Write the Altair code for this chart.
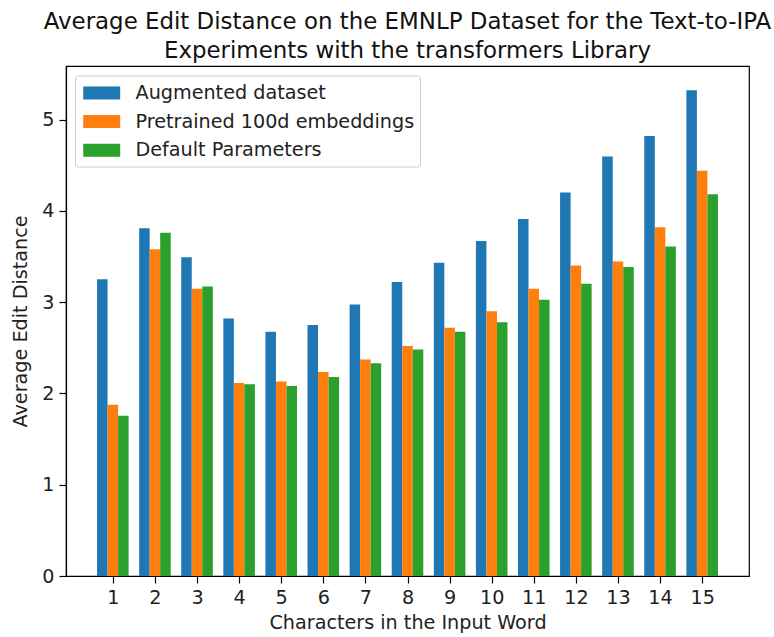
import altair as alt
import pandas as pd

# Word length (number of characters in the input word)
lengths = list(range(1, 16))

# Average edit distance per word length for each configuration
augmented = [3.25, 3.81, 3.49, 2.82, 2.675, 2.75, 2.975, 3.22, 3.43, 3.67, 3.91, 4.20, 4.595, 4.82, 5.32]
pretrained = [1.875, 3.58, 3.145, 2.115, 2.13, 2.235, 2.37, 2.52, 2.72, 2.90, 3.145, 3.40, 3.445, 3.82, 4.44]
default = [1.755, 3.76, 3.17, 2.10, 2.08, 2.18, 2.33, 2.48, 2.675, 2.78, 3.025, 3.20, 3.385, 3.61, 4.18]

series_names = ["Augmented dataset", "Pretrained 100d embeddings", "Default Parameters"]
series_values = [augmented, pretrained, default]
colors = ["#1f77b4", "#ff7f0e", "#2ca02c"]

bar_w = 0.25
rows = []
for k, (name, vals) in enumerate(zip(series_names, series_values)):
    shift = (k - 1) * bar_w
    for n, v in zip(lengths, vals):
        rows.append({
            "series": name,
            "order": k,
            "x0": n + shift - bar_w / 2,
            "x1": n + shift + bar_w / 2,
            "value": v,
        })
df = pd.DataFrame(rows)

x_lo = 1 - 1.5 * bar_w
x_hi = 15 + 1.5 * bar_w
x_pad = 0.05 * (x_hi - x_lo)
y_max = max(augmented + pretrained + default) * 1.05

FONT = "DejaVu Sans"
FS = 19.2

bars = alt.Chart(df).mark_bar().encode(
    x=alt.X(
        "x0:Q",
        scale=alt.Scale(domain=[x_lo - x_pad, x_hi + x_pad], nice=False, zero=False),
        axis=alt.Axis(
            values=lengths, format="d", title="Characters in the Input Word",
            tickSize=7, labelPadding=5, titlePadding=6, grid=False,
        ),
    ),
    x2="x1:Q",
    y=alt.Y(
        "value:Q",
        scale=alt.Scale(domain=[0, y_max], nice=False),
        axis=alt.Axis(
            values=[0, 1, 2, 3, 4, 5], title="Average Edit Distance",
            tickSize=7, labelPadding=5, titlePadding=11, grid=False,
        ),
    ),
    y2=alt.datum(0),
    color=alt.Color(
        "series:N",
        scale=alt.Scale(domain=series_names, range=colors),
        legend=alt.Legend(
            title=None,
            orient="none",
            legendX=9,
            legendY=9.5,
            symbolType="M-1.54,-0.54H1.54V0.54H-1.54Z",
            symbolSize=576,
            symbolStrokeWidth=0,
            symbolOffset=9.2,
            labelOffset=21.8,
            rowPadding=5.6,
            padding=5.5,
            labelLimit=500,
            labelFontSize=FS,
            labelFont=FONT,
            labelColor="#222222",
            strokeColor="#cccccc",
            fillColor="rgba(255,255,255,0.85)",
            cornerRadius=3,
        ),
    ),
    order="order:Q",
)

chart = bars.properties(
    width=683,
    height=510,
    background="white",
    title=alt.TitleParams(
        text=[
            "Average Edit Distance on the EMNLP Dataset for the Text-to-IPA",
            "Experiments with the transformers Library",
        ],
        fontSize=22.9,
        font=FONT,
        fontWeight="normal",
        color="#111111",
        lineHeight=29.5,
        offset=3,
        anchor="middle",
    ),
    autosize=alt.AutoSizeParams(type="none"),
    padding={"left": 66, "top": 66, "right": 25, "bottom": 61},
).configure_view(
    stroke="black", strokeWidth=1.2
).configure_axis(
    labelFont=FONT, titleFont=FONT, labelFontSize=FS, titleFontSize=FS,
    titleFontWeight="normal", labelColor="#222222", titleColor="#222222",
    domainColor="black", tickColor="black", domainWidth=1.2, tickWidth=1.2,
)

chart.save("out.html", embed_options={"renderer": "svg", "actions": False})
